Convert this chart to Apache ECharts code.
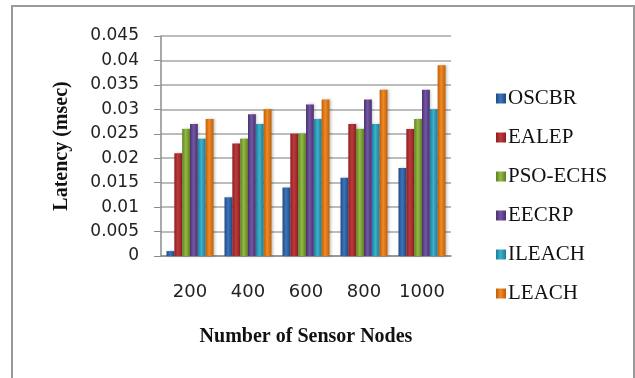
<!DOCTYPE html>
<html>
<head>
<meta charset="utf-8">
<script src="https://cdn.jsdelivr.net/npm/echarts@6/dist/echarts.min.js"></script>
<style>
html,body{margin:0;padding:0;background:#fff;overflow:hidden;}
#frame{position:absolute;left:11px;top:5px;width:624px;height:400px;border-left:2px solid #9a9a9a;border-top:2px solid #9a9a9a;border-right:2px solid #9a9a9a;box-sizing:border-box;}
#chart{position:absolute;left:0;top:0;width:635px;height:378px;}
</style>
</head>
<body>
<div id="frame"></div>
<div id="chart"></div>
<script>
const categories = ['200', '400', '600', '800', '1000'];
const seriesNames = ['OSCBR', 'EALEP', 'PSO-ECHS', 'EECRP', 'ILEACH', 'LEACH'];
const oscbr   = [0.001, 0.012, 0.014, 0.016, 0.018];
const ealep   = [0.021, 0.023, 0.025, 0.027, 0.026];
const psoEchs = [0.026, 0.024, 0.025, 0.026, 0.028];
const eecrp   = [0.027, 0.029, 0.031, 0.032, 0.034];
const ileach  = [0.024, 0.027, 0.028, 0.027, 0.030];
const leach   = [0.028, 0.030, 0.032, 0.034, 0.039];
const yTicks = ['0', '0.005', '0.01', '0.015', '0.02', '0.025', '0.03', '0.035', '0.04', '0.045'];

const values = [oscbr, ealep, psoEchs, eecrp, ileach, leach];
const colors = [
  ['#1f4a80', '#3d75bd'],
  ['#8a1f22', '#c03a3c'],
  ['#5f7f22', '#93bb43'],
  ['#4a3170', '#7356a3'],
  ['#1e7d95', '#3cb0cc'],
  ['#c05f08', '#f08a26']
];

function grad(c) {
  return new echarts.graphic.LinearGradient(0, 0, 1, 0, [
    {offset: 0, color: c[0]},
    {offset: 0.45, color: c[1]},
    {offset: 1, color: c[0]}
  ]);
}

const chart = echarts.init(document.getElementById('chart'), null, {renderer: 'canvas'});
chart.setOption({
  animation: false,
  backgroundColor: 'transparent',
  grid: {left: 161, right: 184, top: 36, bottom: 122, containLabel: false},
  legend: {
    orient: 'vertical',
    left: 491,
    top: 83,
    itemWidth: 10,
    itemHeight: 10,
    itemGap: 18,
    icon: 'rect',
    textStyle: {fontFamily: 'Liberation Serif', fontSize: 21, color: '#111', padding: [0, 0, 0, -3]},
    data: seriesNames
  },
  xAxis: {
    type: 'category',
    data: categories,
    axisLine: {lineStyle: {color: '#8c8c8c', width: 1.5}},
    axisTick: {show: false},
    axisLabel: {interval: 0, fontFamily: 'DejaVu Sans', fontSize: 18, color: '#222', margin: 27},
    name: 'Number of Sensor Nodes',
    nameLocation: 'middle',
    nameGap: 71,
    nameTextStyle: {fontFamily: 'Liberation Serif', fontWeight: 'bold', fontSize: 20, color: '#111'}
  },
  yAxis: {
    type: 'value',
    min: 0,
    max: 0.045,
    interval: 0.005,
    axisLine: {show: true, lineStyle: {color: '#8c8c8c', width: 1.5}},
    axisTick: {show: true, length: 7, lineStyle: {color: '#8c8c8c'}},
    splitLine: {lineStyle: {color: '#a6a6a6', width: 1.5}},
    axisLabel: {
      fontFamily: 'DejaVu Sans', fontSize: 17, color: '#222', margin: 22,
      formatter: function (v) { return yTicks[Math.round(v / 0.005)]; }
    },
    name: 'Latency (msec)',
    nameLocation: 'middle',
    nameGap: 89,
    nameTextStyle: {fontFamily: 'Liberation Serif', fontWeight: 'bold', fontSize: 20, color: '#111'}
  },
  series: seriesNames.map(function (n, i) {
    return {
      name: n,
      type: 'bar',
      data: values[i],
      barGap: '0%',
      barCategoryGap: '19%',
      itemStyle: {
        color: grad(colors[i]),
        shadowColor: 'rgba(0,0,0,0.25)',
        shadowBlur: 3,
        shadowOffsetX: 1.5,
        shadowOffsetY: 0
      }
    };
  })
});
</script>
</body>
</html>
